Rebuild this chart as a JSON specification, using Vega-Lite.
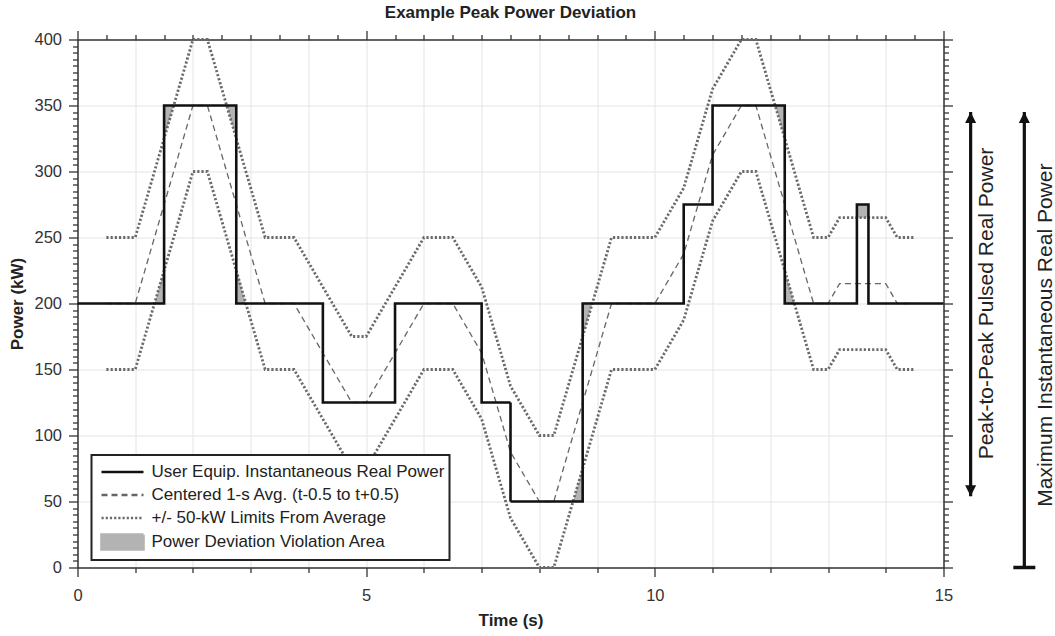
{
  "$schema": "https://vega.github.io/schema/vega-lite/v6.json",
  "width": 866,
  "height": 528,
  "autosize": {"type": "none"},
  "padding": {"left": 77.5, "top": 39.5, "right": 111.5, "bottom": 68.5},
  "background": "white",
  "config": {
    "view": {"stroke": null},
    "legend": {
      "orient": "none", "legendX": 14, "legendY": 415.5,
      "strokeColor": "#222", "strokeWidth": 2, "fillColor": "white", "padding": 5,
      "labelFont": "Liberation Sans", "labelFontSize": 17, "labelColor": "#222", "labelLimit": 0,
      "symbolType": "stroke", "symbolSize": 441, "symbolOffset": 14, "labelOffset": 17, "rowPadding": 3,
      "symbolStrokeWidth": 2.6, "symbolOpacity": 1
    }
  },
  "title": {"text": "Example Peak Power Deviation", "font": "Liberation Sans", "fontSize": 17, "fontWeight": "bold", "color": "#222", "anchor": "middle", "offset": 8},
  "datasets": {
    "power": [{"t":0,"p":200},{"t":1.5,"p":350},{"t":2.75,"p":200},{"t":4.25,"p":125},{"t":5.5,"p":200},{"t":7,"p":125},{"t":7.5,"p":50},{"t":8.75,"p":200},{"t":10.5,"p":275},{"t":11,"p":350},{"t":12.25,"p":200},{"t":13.5,"p":275},{"t":13.7,"p":200},{"t":15,"p":200}],
    "avg": [
      {"t":0.5,"avg":200,"hi":250,"lo":150},{"t":1,"avg":200,"hi":250,"lo":150},{"t":2,"avg":350,"hi":400,"lo":300},{"t":2.25,"avg":350,"hi":400,"lo":300},
      {"t":3.25,"avg":200,"hi":250,"lo":150},{"t":3.75,"avg":200,"hi":250,"lo":150},{"t":4.75,"avg":125,"hi":175,"lo":75},{"t":5,"avg":125,"hi":175,"lo":75},
      {"t":6,"avg":200,"hi":250,"lo":150},{"t":6.5,"avg":200,"hi":250,"lo":150},{"t":7,"avg":162.5,"hi":212.5,"lo":112.5},{"t":7.5,"avg":87.5,"hi":137.5,"lo":37.5},
      {"t":8,"avg":50,"hi":100,"lo":0},{"t":8.25,"avg":50,"hi":100,"lo":0},{"t":9.25,"avg":200,"hi":250,"lo":150},{"t":10,"avg":200,"hi":250,"lo":150},
      {"t":10.5,"avg":237.5,"hi":287.5,"lo":187.5},{"t":11,"avg":312.5,"hi":362.5,"lo":262.5},{"t":11.5,"avg":350,"hi":400,"lo":300},{"t":11.75,"avg":350,"hi":400,"lo":300},
      {"t":12.75,"avg":200,"hi":250,"lo":150},{"t":13,"avg":200,"hi":250,"lo":150},{"t":13.2,"avg":215,"hi":265,"lo":165},{"t":14,"avg":215,"hi":265,"lo":165},
      {"t":14.2,"avg":200,"hi":250,"lo":150},{"t":14.5,"avg":200,"hi":250,"lo":150}
    ],
    "viol": [
      {"r":1,"t":1.3333,"p":200,"lim":200},{"r":1,"t":1.5,"p":200,"lim":225},
      {"r":2,"t":1.5,"p":350,"lim":325},{"r":2,"t":1.6667,"p":350,"lim":350},
      {"r":3,"t":2.5833,"p":350,"lim":350},{"r":3,"t":2.75,"p":350,"lim":325},
      {"r":4,"t":2.75,"p":200,"lim":225},{"r":4,"t":2.9167,"p":200,"lim":200},
      {"r":5,"t":8.5833,"p":50,"lim":50},{"r":5,"t":8.75,"p":50,"lim":75},
      {"r":6,"t":8.75,"p":200,"lim":175},{"r":6,"t":8.9167,"p":200,"lim":200},
      {"r":7,"t":12.0833,"p":350,"lim":350},{"r":7,"t":12.25,"p":350,"lim":325},
      {"r":8,"t":12.25,"p":200,"lim":225},{"r":8,"t":12.4167,"p":200,"lim":200},
      {"r":9,"t":13.5,"p":275,"lim":265},{"r":9,"t":13.7,"p":275,"lim":265}
    ],
    "arrows": [{"id":"peak","t":15.47,"lo":54,"hi":345},{"id":"max","t":16.4,"lo":0,"hi":345}],
    "notes": [{"t":15.76,"p":200,"text":"Peak-to-Peak Pulsed Real Power"},{"t":16.78,"p":176,"text":"Maximum Instantaneous Real Power"}]
  },
  "resolve": {"axis": {"x": "independent", "y": "independent"}},
  "layer": [
    {
      "data": {"name": "viol"},
      "mark": {"type": "area", "opacity": 1},
      "encoding": {
        "x": {"field": "t", "type": "quantitative", "scale": {"domain": [0, 15], "nice": false, "zero": false},
          "axis": {"orient": "bottom", "values": [0,0.5,1,1.5,2,2.5,3,3.5,4,4.5,5,5.5,6,6.5,7,7.5,8,8.5,9,9.5,10,10.5,11,11.5,12,12.5,13,13.5,14,14.5,15],
            "format": "d",
            "labelExpr": "datum.value % 5 === 0 ? datum.label : ''",
            "title": "Time (s)", "titleFont": "Liberation Sans", "titleFontSize": 17, "titleFontWeight": "bold", "titleColor": "#222", "titlePadding": 8,
            "labelFont": "Liberation Sans", "labelFontSize": 16.5, "labelColor": "#333", "labelPadding": 11, "labelFlush": false, "labelOverlap": false,
            "tickSize": {"condition": {"test": "datum.value % 5 === 0", "value": 9}, "value": 5},
            "tickColor": "#333", "tickWidth": 1.3, "domainColor": "#333", "domainWidth": 1.5,
            "grid": true, "gridColor": "#e4e4e4", "gridWidth": 1}},
        "y": {"field": "p", "type": "quantitative", "scale": {"domain": [0, 400], "nice": false},
          "axis": {"orient": "left", "values": [0,5,10,15,20,25,30,35,40,45,50,55,60,65,70,75,80,85,90,95,100,105,110,115,120,125,130,135,140,145,150,155,160,165,170,175,180,185,190,195,200,205,210,215,220,225,230,235,240,245,250,255,260,265,270,275,280,285,290,295,300,305,310,315,320,325,330,335,340,345,350,355,360,365,370,375,380,385,390,395,400],
            "labelExpr": "datum.value % 50 === 0 ? datum.label : ''",
            "title": "Power (kW)", "titleFont": "Liberation Sans", "titleFontSize": 17, "titleFontWeight": "bold", "titleColor": "#222", "titlePadding": 7,
            "labelFont": "Liberation Sans", "labelFontSize": 16.5, "labelColor": "#333", "labelPadding": 7, "labelFlush": false, "labelOverlap": false,
            "tickSize": {"condition": {"test": "datum.value % 50 === 0", "value": 9}, "value": 5},
            "tickColor": "#333", "tickWidth": 1.3, "domainColor": "#333", "domainWidth": 1.5,
            "grid": true, "gridColor": "#e4e4e4", "gridWidth": 1,
            "gridOpacity": {"condition": {"test": "datum.value % 50 === 0", "value": 1}, "value": 0}}},
        "y2": {"field": "lim"},
        "detail": {"field": "r", "type": "nominal"},
        "color": {"datum": "Power Deviation Violation Area", "type": "nominal",
          "scale": {"domain": ["User Equip. Instantaneous Real Power", "Centered 1-s Avg. (t-0.5 to t+0.5)", "+/- 50-kW Limits From Average", "Power Deviation Violation Area"],
            "range": ["#111111", "#666666", "#6b6b6b", "#b3b3b3"]},
          "legend": {"title": null}}
      }
    },
    {
      "data": {"name": "avg"},
      "mark": {"type": "line", "strokeWidth": 1.3},
      "encoding": {
        "x": {"field": "t", "type": "quantitative", "scale": {"domain": [0, 15], "nice": false, "zero": false}, "axis": null},
        "y": {"field": "avg", "type": "quantitative", "scale": {"domain": [0, 400], "nice": false}, "axis": null},
        "color": {"datum": "Centered 1-s Avg. (t-0.5 to t+0.5)", "type": "nominal", "legend": {"title": null}},
        "strokeDash": {"datum": "Centered 1-s Avg. (t-0.5 to t+0.5)", "type": "nominal",
          "scale": {"domain": ["User Equip. Instantaneous Real Power", "Centered 1-s Avg. (t-0.5 to t+0.5)", "+/- 50-kW Limits From Average", "Power Deviation Violation Area"],
            "range": [[1, 0], [6, 4], [2.2, 2], [1, 0]]},
          "legend": {"title": null}}
      }
    },
    {
      "data": {"name": "avg"},
      "mark": {"type": "line", "strokeWidth": 2.8},
      "encoding": {
        "x": {"field": "t", "type": "quantitative", "scale": {"domain": [0, 15], "nice": false, "zero": false}, "axis": null},
        "y": {"field": "hi", "type": "quantitative", "scale": {"domain": [0, 400], "nice": false}, "axis": null},
        "color": {"datum": "+/- 50-kW Limits From Average", "type": "nominal", "legend": {"title": null}},
        "strokeDash": {"datum": "+/- 50-kW Limits From Average", "type": "nominal", "legend": {"title": null}}
      }
    },
    {
      "data": {"name": "avg"},
      "mark": {"type": "line", "strokeWidth": 2.8},
      "encoding": {
        "x": {"field": "t", "type": "quantitative", "scale": {"domain": [0, 15], "nice": false, "zero": false}, "axis": null},
        "y": {"field": "lo", "type": "quantitative", "scale": {"domain": [0, 400], "nice": false}, "axis": null},
        "color": {"datum": "+/- 50-kW Limits From Average", "type": "nominal", "legend": {"title": null}},
        "strokeDash": {"datum": "+/- 50-kW Limits From Average", "type": "nominal", "legend": {"title": null}}
      }
    },
    {
      "data": {"name": "power"},
      "mark": {"type": "line", "strokeWidth": 2.6, "interpolate": "step-after"},
      "encoding": {
        "x": {"field": "t", "type": "quantitative", "scale": {"domain": [0, 15], "nice": false, "zero": false},
          "axis": {"orient": "top", "values": [0,0.5,1,1.5,2,2.5,3,3.5,4,4.5,5,5.5,6,6.5,7,7.5,8,8.5,9,9.5,10,10.5,11,11.5,12,12.5,13,13.5,14,14.5,15],
            "labels": false, "title": null, "grid": false,
            "tickSize": {"condition": {"test": "datum.value % 5 === 0", "value": 9}, "value": 5},
            "tickColor": "#333", "tickWidth": 1.3, "domainColor": "#333", "domainWidth": 1.5}},
        "y": {"field": "p", "type": "quantitative", "scale": {"domain": [0, 400], "nice": false},
          "axis": {"orient": "right", "values": [0,5,10,15,20,25,30,35,40,45,50,55,60,65,70,75,80,85,90,95,100,105,110,115,120,125,130,135,140,145,150,155,160,165,170,175,180,185,190,195,200,205,210,215,220,225,230,235,240,245,250,255,260,265,270,275,280,285,290,295,300,305,310,315,320,325,330,335,340,345,350,355,360,365,370,375,380,385,390,395,400],
            "labels": false, "title": null, "grid": false,
            "tickSize": {"condition": {"test": "datum.value % 50 === 0", "value": 9}, "value": 5},
            "tickColor": "#333", "tickWidth": 1.3, "domainColor": "#333", "domainWidth": 1.5}},
        "color": {"datum": "User Equip. Instantaneous Real Power", "type": "nominal", "legend": {"title": null}},
        "strokeDash": {"datum": "User Equip. Instantaneous Real Power", "type": "nominal", "legend": {"title": null}}
      }
    },
    {
      "data": {"name": "power"},
      "mark": {"type": "point", "opacity": 0, "filled": true},
      "encoding": {
        "x": {"field": "t", "type": "quantitative", "scale": {"domain": [0, 15], "nice": false, "zero": false}, "axis": null},
        "y": {"field": "p", "type": "quantitative", "scale": {"domain": [0, 400], "nice": false}, "axis": null},
        "shape": {"datum": "User Equip. Instantaneous Real Power", "type": "nominal",
          "scale": {"domain": ["User Equip. Instantaneous Real Power", "Centered 1-s Avg. (t-0.5 to t+0.5)", "+/- 50-kW Limits From Average", "Power Deviation Violation Area"],
            "range": ["M-2,0H2", "M-2,0H2", "M-2,0H2", "M-2,-0.7H2V0.7H-2Z"]},
          "legend": {"title": null}}
      }
    },
    {
      "data": {"name": "arrows"},
      "mark": {"type": "rule", "color": "#111", "strokeWidth": 3.2},
      "encoding": {
        "x": {"field": "t", "type": "quantitative", "scale": {"domain": [0, 15], "nice": false, "zero": false}, "axis": null},
        "y": {"field": "lo", "type": "quantitative", "scale": {"domain": [0, 400], "nice": false}, "axis": null},
        "y2": {"field": "hi"}
      }
    },
    {
      "data": {"name": "arrows"},
      "mark": {"type": "point", "shape": "M0,0L0.5,1L-0.5,1Z", "filled": true, "color": "#111", "opacity": 1, "size": 484},
      "encoding": {
        "x": {"field": "t", "type": "quantitative", "scale": {"domain": [0, 15], "nice": false, "zero": false}, "axis": null},
        "y": {"field": "hi", "type": "quantitative", "scale": {"domain": [0, 400], "nice": false}, "axis": null}
      }
    },
    {
      "data": {"name": "arrows"},
      "transform": [{"filter": "datum.id === 'peak'"}],
      "mark": {"type": "point", "shape": "M0,0L0.5,-1L-0.5,-1Z", "filled": true, "color": "#111", "opacity": 1, "size": 484},
      "encoding": {
        "x": {"field": "t", "type": "quantitative", "scale": {"domain": [0, 15], "nice": false, "zero": false}, "axis": null},
        "y": {"field": "lo", "type": "quantitative", "scale": {"domain": [0, 400], "nice": false}, "axis": null}
      }
    },
    {
      "data": {"name": "arrows"},
      "transform": [{"filter": "datum.id === 'max'"}],
      "mark": {"type": "point", "shape": "stroke", "filled": false, "color": "#111", "opacity": 1, "size": 484, "strokeWidth": 3.5},
      "encoding": {
        "x": {"field": "t", "type": "quantitative", "scale": {"domain": [0, 15], "nice": false, "zero": false}, "axis": null},
        "y": {"field": "lo", "type": "quantitative", "scale": {"domain": [0, 400], "nice": false}, "axis": null}
      }
    },
    {
      "data": {"name": "notes"},
      "mark": {"type": "text", "angle": 270, "font": "Liberation Sans", "fontSize": 21, "color": "#222", "align": "center", "baseline": "middle"},
      "encoding": {
        "x": {"field": "t", "type": "quantitative", "scale": {"domain": [0, 15], "nice": false, "zero": false}, "axis": null},
        "y": {"field": "p", "type": "quantitative", "scale": {"domain": [0, 400], "nice": false}, "axis": null},
        "text": {"field": "text"}
      }
    }
  ]
}
